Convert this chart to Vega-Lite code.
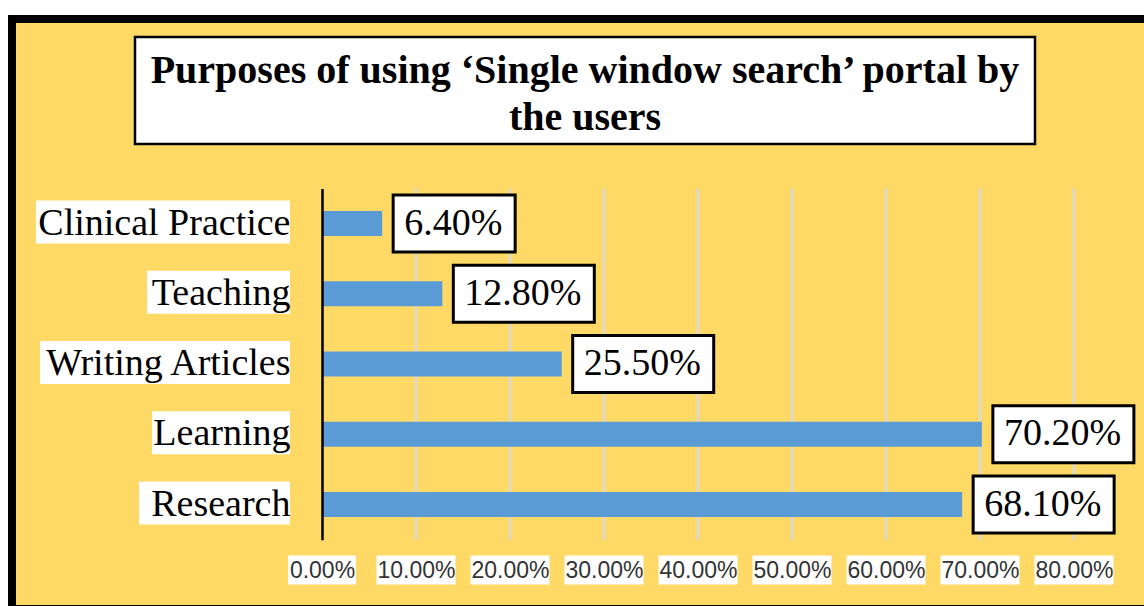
{
  "$schema": "https://vega.github.io/schema/vega-lite/v6.json",
  "width": 1144,
  "height": 590,
  "autosize": {"type": "none"},
  "padding": {"left": 12, "top": 19, "right": -12, "bottom": -3},
  "background": "white",
  "config": {
    "view": {"fill": "#FFD966", "stroke": "black", "strokeWidth": 8},
    "font": "'Liberation Serif', 'DejaVu Serif', serif"
  },
  "title": {
    "text": ["Purposes of using ‘Single window search’ portal by", "the users"],
    "font": "'Liberation Serif', 'DejaVu Serif', serif",
    "fontSize": 40,
    "fontWeight": "bold",
    "color": "black",
    "lineHeight": 47,
    "anchor": "middle",
    "frame": "group",
    "offset": -119,
    "dx": 1
  },
  "datasets": {
    "main": [
      {"purpose": "Clinical Practice", "share": 0.064},
      {"purpose": "Teaching", "share": 0.128},
      {"purpose": "Writing Articles", "share": 0.255},
      {"purpose": "Learning", "share": 0.702},
      {"purpose": "Research\u00a0", "share": 0.681}
    ],
    "ticks": [
      {"t": 0}, {"t": 0.1}, {"t": 0.2}, {"t": 0.3}, {"t": 0.4},
      {"t": 0.5}, {"t": 0.6}, {"t": 0.7}, {"t": 0.8}
    ],
    "one": [{"k": 1}]
  },
  "layer": [
    {
      "data": {"name": "one"},
      "mark": {"type": "point", "size": 4, "filled": true, "fill": "white", "stroke": "black", "strokeWidth": 2.5, "opacity": 1,
               "shape": "M-187,-186.5H713V-79.5H-187Z"},
      "encoding": {
        "x": {"datum": 0, "type": "quantitative", "scale": {"domain": [-0.329787, 0.887234], "nice": false, "zero": false}},
        "y": {"datum": "Clinical Practice", "type": "nominal",
              "scale": {"domain": ["Clinical Practice", "Teaching", "Writing Articles", "Learning", "Research\u00a0"], "range": [169.375, 520.625], "paddingInner": 0.644, "paddingOuter": 0.322, "round": false}}
      }
    },
    {
      "data": {"name": "ticks"},
      "transform": [{"filter": "datum.t > 0"}],
      "mark": {"type": "rule", "color": "#D9D9D9", "strokeWidth": 2.5, "yOffset": -35.125, "y2Offset": 35.125},
      "encoding": {
        "x": {"field": "t", "type": "quantitative", "scale": {"domain": [-0.329787, 0.887234], "nice": false, "zero": false}},
        "y": {"datum": "Clinical Practice", "type": "nominal"},
        "y2": {"datum": "Research\u00a0"}
      }
    },
    {
      "data": {"name": "main"},
      "mark": {"type": "bar", "color": "#5B9BD5"},
      "encoding": {
        "x": {"field": "share", "type": "quantitative",
              "scale": {"domain": [-0.329787, 0.887234], "nice": false, "zero": false},
              "axis": {"values": [0, 0.1, 0.2, 0.3, 0.4, 0.5, 0.6, 0.7, 0.8], "format": ".2%", "grid": false, "domain": false, "ticks": false, "tickSize": 0,
                       "labelPadding": 30.5, "labelBaseline": "middle", "labelFont": "'Liberation Sans', 'DejaVu Sans', sans-serif", "labelFontSize": 23, "labelColor": "#333333",
                       "labelFlush": false, "labelOverlap": false, "labelBound": false, "offset": -69.5, "title": null, "zindex": 2}},
        "x2": {"datum": 0},
        "y": {"field": "purpose", "type": "nominal", "sort": null,
              "scale": {"domain": ["Clinical Practice", "Teaching", "Writing Articles", "Learning", "Research\u00a0"], "range": [169.375, 520.625], "paddingInner": 0.644, "paddingOuter": 0.322, "round": false},
              "axis": {"title": null, "offset": -310, "domainColor": "black", "domainWidth": 2.5, "ticks": false, "tickSize": 0, "labelPadding": 32,
                       "labelFont": "'Liberation Serif', 'DejaVu Serif', serif", "labelFontSize": 38, "labelColor": "black", "labelLimit": 400, "labelBaseline": "middle", "grid": false, "zindex": 2}}
      }
    },
    {
      "data": {"name": "main"},
      "mark": {"type": "point", "size": 4, "filled": true, "fill": "white", "strokeWidth": 0, "opacity": 1},
      "encoding": {
        "x": {"datum": 0, "type": "quantitative"},
        "y": {"field": "purpose", "type": "nominal"},
        "shape": {"field": "purpose", "type": "nominal", "legend": null,
                  "scale": {"domain": ["Clinical Practice", "Teaching", "Writing Articles", "Learning", "Research\u00a0"],
                            "range": ["M-286,-23H-32V20H-286Z", "M-175,-23H-32V20H-175Z", "M-282,-23H-32V20H-282Z", "M-170,-23H-32V20H-170Z", "M-183,-23H-32V20H-183Z"]}}
      }
    },
    {
      "data": {"name": "main"},
      "mark": {"type": "point", "size": 4, "filled": true, "fill": "white", "stroke": "black", "strokeWidth": 3, "opacity": 1},
      "encoding": {
        "x": {"field": "share", "type": "quantitative"},
        "y": {"field": "purpose", "type": "nominal"},
        "shape": {"condition": {"test": "datum.share < 0.1", "value": "M11,-28.5H133V28.5H11Z"}, "value": "M11,-28.5H152V28.5H11Z"}
      }
    },
    {
      "data": {"name": "main"},
      "mark": {"type": "text", "align": "left", "baseline": "middle", "dx": 22, "font": "'Liberation Serif', 'DejaVu Serif', serif", "fontSize": 38, "color": "black"},
      "encoding": {
        "x": {"field": "share", "type": "quantitative"},
        "y": {"field": "purpose", "type": "nominal"},
        "text": {"field": "share", "type": "quantitative", "format": ".2%"}
      }
    },
    {
      "data": {"name": "ticks"},
      "mark": {"type": "point", "size": 4, "filled": true, "fill": "white", "strokeWidth": 0, "opacity": 1},
      "encoding": {
        "x": {"field": "t", "type": "quantitative"},
        "y": {"datum": "Research\u00a0", "type": "nominal"},
        "shape": {"condition": {"test": "datum.t < 0.05", "value": "M-34,51H34V80H-34Z"}, "value": "M-39.5,51H39.5V80H-39.5Z"}
      }
    }
  ]
}
